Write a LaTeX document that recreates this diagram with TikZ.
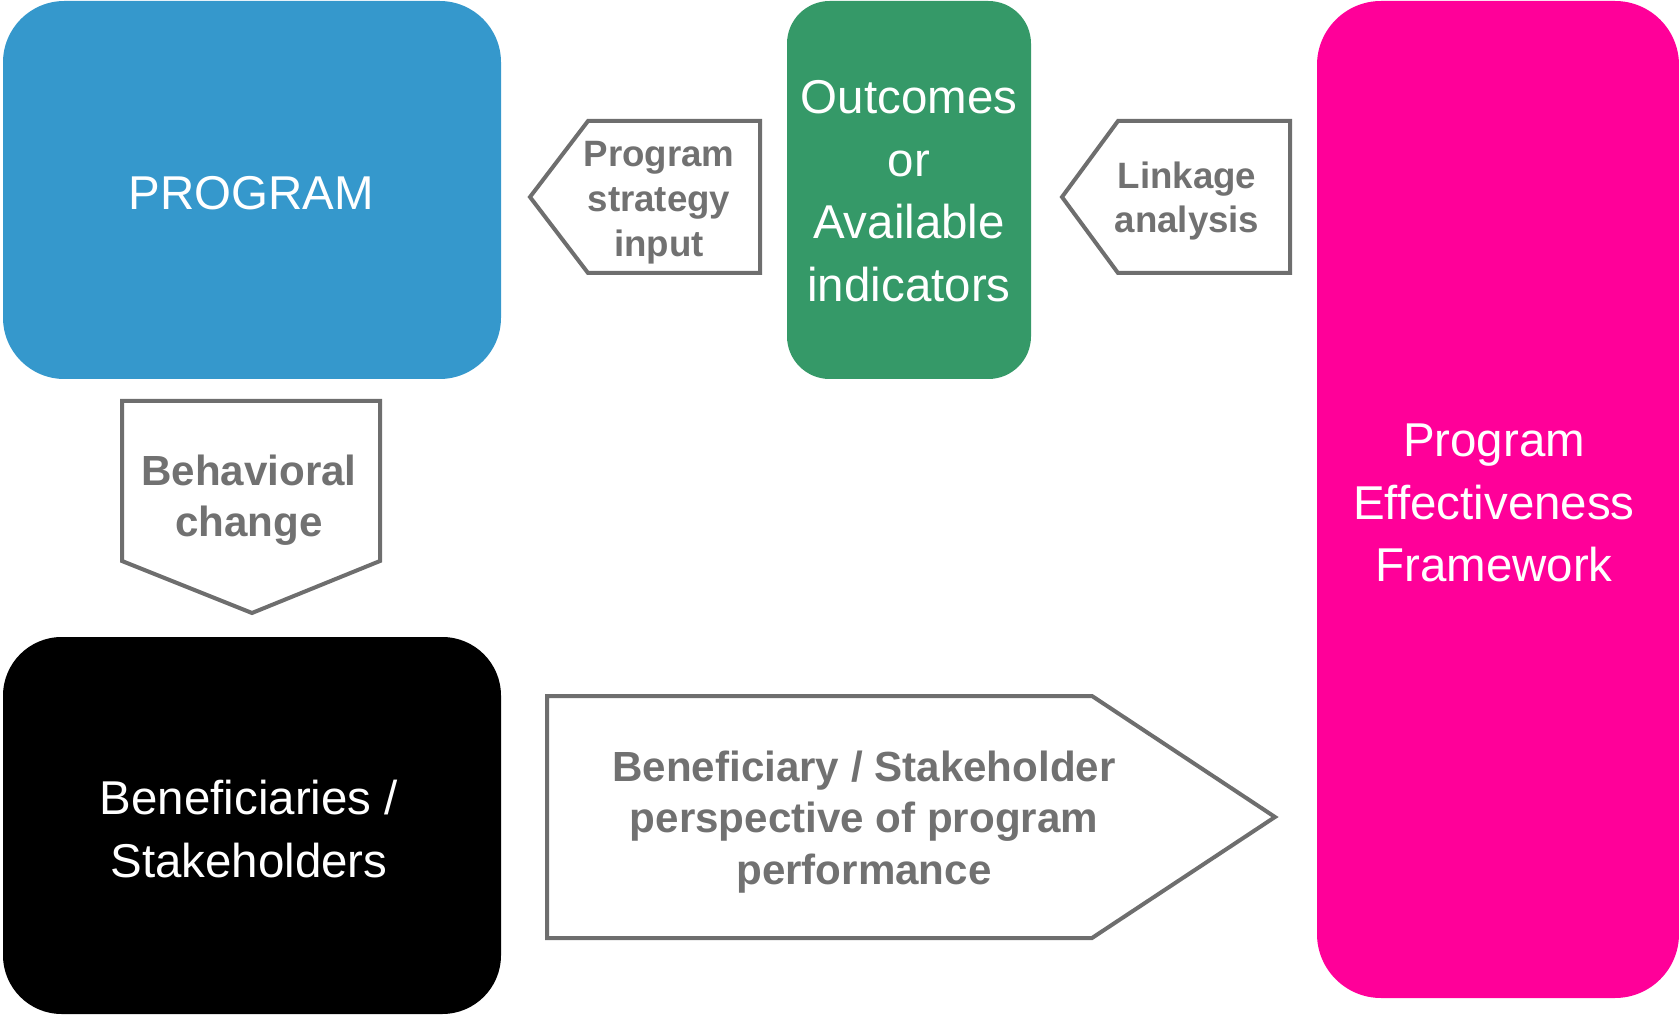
\documentclass[tikz,border=0pt]{standalone}
\usepackage{fontspec}
\setmainfont{Liberation Sans}
\usetikzlibrary{positioning}
\definecolor{progblue}{RGB}{53,152,204}
\definecolor{outgreen}{RGB}{53,153,104}
\definecolor{pefpink}{RGB}{255,0,153}
\definecolor{arrgray}{RGB}{110,110,110}
\definecolor{txtgray}{RGB}{113,113,113}

\begin{document}
\begin{tikzpicture}[x=0.75pt,y=0.75pt,yscale=-1,xscale=1,
    boxtxt/.style={color=white, align=center, font=\fontsize{35.6}{47}\selectfont},
    bigarrtxt/.style={color=txtgray, align=center, font=\fontsize{31.6}{38.5}\selectfont\bfseries},
    smallarrtxt/.style={color=txtgray, align=center, font=\fontsize{27.5}{33.7}\selectfont\bfseries},
    arrline/.style={draw=arrgray, line width=3pt, fill=white, line join=miter}]
    \useasboundingbox (0,0) rectangle (1679,1016); %set diagram size

    % Shape: Rounded Rect
    \draw [fill=progblue, draw=none, rounded corners=46pt] (3,1) rectangle (501,379);
    % Shape: Rounded Rect
    \draw [fill=outgreen, draw=none, rounded corners=32pt] (787,1) rectangle (1031,379);
    % Shape: Rounded Rect
    \draw [fill=black, draw=none, rounded corners=44pt] (3,637) rectangle (501,1014);
    % Shape: Rounded Rect
    \draw [fill=pefpink, draw=none, rounded corners=48pt] (1317,1) rectangle (1679,998);
    % Shape: Pentagon
    \draw [arrline] (530,197) -- (588,121) -- (760,121) -- (760,273) -- (588,273) -- cycle;
    % Shape: Pentagon
    \draw [arrline] (1062,197) -- (1118,121) -- (1290,121) -- (1290,273) -- (1118,273) -- cycle;
    % Shape: Pentagon
    \draw [arrline] (122,401) -- (380,401) -- (380,561) -- (252,613) -- (122,561) -- cycle;
    % Shape: Pentagon
    \draw [arrline] (547,696) -- (1092,696) -- (1275,817) -- (1092,938) -- (547,938) -- cycle;

    % Text Node
    \draw (251,193) node (prog) [boxtxt] {PROGRAM};
    % Text Node
    \draw (909,191) node (outc) [boxtxt] {Outcomes\\or\\Available\\indicators};
    % Text Node
    \draw (249,829) node (benef) [boxtxt] {Beneficiaries /\\Stakeholders};
    % Text Node
    \draw (1494,503) node (pef) [boxtxt] {Program\\Effectiveness\\Framework};
    % Text Node
    \draw (659,203) node (strat) [smallarrtxt] {Program\\strategy\\input};
    % Text Node
    \draw (1187,201) node (link) [smallarrtxt] {Linkage\\analysis};
    % Text Node
    \draw (249,500) node (behav) [bigarrtxt] {Behavioral\\change};
    % Text Node
    \draw (864,822) node (persp) [bigarrtxt] {Beneficiary / Stakeholder\\perspective of program\\performance};

\end{tikzpicture}
\end{document}
